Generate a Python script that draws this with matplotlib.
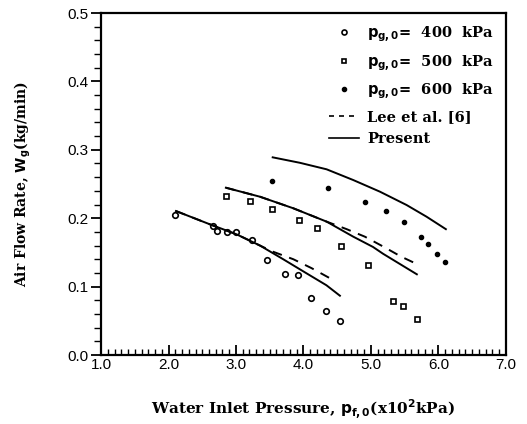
import matplotlib
matplotlib.use("Agg")
import matplotlib.pyplot as plt
from matplotlib.ticker import MultipleLocator
from matplotlib.lines import Line2D

# ---- data ----
x400 = [2.10, 2.66, 2.72, 2.86, 3.00, 3.24, 3.46, 3.72, 3.92, 4.11, 4.33, 4.545]
y400 = [0.204, 0.189, 0.182, 0.180, 0.180, 0.168, 0.139, 0.118, 0.117, 0.084, 0.064, 0.049]

x500 = [2.85, 3.21, 3.53, 3.93, 4.195, 4.55, 4.96, 5.32, 5.47, 5.68]
y500 = [0.233, 0.225, 0.213, 0.198, 0.186, 0.160, 0.132, 0.079, 0.072, 0.052]

x600 = [3.53, 4.37, 4.91, 5.22, 5.49, 5.74, 5.85, 5.98, 6.10]
y600 = [0.255, 0.244, 0.223, 0.210, 0.195, 0.173, 0.162, 0.147, 0.136]

# Present (solid) curves
xp1 = [2.11, 2.615, 3.01, 3.356, 3.70, 4.046, 4.34, 4.54]
yp1 = [0.2105, 0.191, 0.1764, 0.160, 0.140, 0.1194, 0.102, 0.0867]
xp2 = [2.85, 3.356, 3.85, 4.343, 4.738, 5.03, 5.18, 5.68]
yp2 = [0.2446, 0.2314, 0.2145, 0.195, 0.173, 0.158, 0.148, 0.118]
xp3 = [3.544, 3.948, 4.343, 4.738, 5.133, 5.528, 5.824, 6.11]
yp3 = [0.289, 0.281, 0.2715, 0.2558, 0.2388, 0.2193, 0.2022, 0.184]

# Lee et al. [6] (dashed) curves
xl1 = [2.11, 2.615, 3.01, 3.356, 3.55, 3.85, 4.12, 4.47]
yl1 = [0.2105, 0.191, 0.1764, 0.160, 0.151, 0.140, 0.127, 0.108]
xl2 = [2.85, 3.356, 3.85, 4.343, 4.64, 4.91, 5.21, 5.45, 5.68]
yl2 = [0.2446, 0.2314, 0.2145, 0.195, 0.184, 0.173, 0.157, 0.1437, 0.133]

xticks = [1.0, 2.0, 3.0, 4.0, 5.0, 6.0, 7.0]
yticks = [0.0, 0.1, 0.2, 0.3, 0.4, 0.5]

fig = plt.figure(figsize=(5.27, 4.24), dpi=100)
ax = fig.add_axes([0.1917, 0.1627, 0.960 - 0.1917, 0.9693 - 0.1627])

lw = 1.4
ax.plot(x400, y400, linestyle='none', marker='o', ms=4.0, mfc='white', mec='black', mew=1.2)
ax.plot(x500, y500, linestyle='none', marker='s', ms=3.6, mfc='white', mec='black', mew=1.2)
ax.plot(x600, y600, linestyle='none', marker='o', ms=3.0, mfc='black', mec='black')

for xs, ys in [(xp1, yp1), (xp2, yp2), (xp3, yp3)]:
    ax.plot(xs, ys, color='black', lw=lw)
for xs, ys in [(xl1, yl1), (xl2, yl2)]:
    ax.plot(xs, ys, color='black', lw=lw, dashes=(5, 4))

ax.set_xlim(1.0, 7.0)
ax.set_ylim(0.0, 0.5)
ax.set_xticks(xticks)
ax.set_yticks(yticks)
ax.set_xticklabels([f"{v:.1f}" for v in xticks], fontsize=11, family='Liberation Sans')
ax.set_yticklabels([f"{v:.1f}" for v in yticks], fontsize=11, family='Liberation Sans')
ax.xaxis.set_minor_locator(MultipleLocator(0.1))
ax.yaxis.set_minor_locator(MultipleLocator(0.02))
ax.tick_params(axis='x', which='both', direction='in', top=False)
ax.tick_params(axis='x', which='major', length=7, width=1.3, pad=2)
ax.tick_params(axis='x', which='minor', length=4.5, width=1.0)
ax.tick_params(axis='y', which='both', direction='out', right=False)
ax.tick_params(axis='y', which='major', length=7, width=1.3, pad=2)
ax.tick_params(axis='y', which='minor', length=5, width=1.0)
for s in ax.spines.values():
    s.set_linewidth(1.6)

ax.set_xlabel(r"Water Inlet Pressure, $\mathbf{p_{f,0}}$(x10$^\mathbf{2}$kPa)", labelpad=18,
              family='DejaVu Serif', fontweight='bold', fontsize=11)
ax.set_ylabel(r"Air Flow Rate, $\mathbf{W_g}$(kg/min)", labelpad=25,
              family='DejaVu Serif', fontweight='bold', fontsize=10)

handles = [
    Line2D([], [], linestyle='none', marker='o', ms=3.6, mfc='white', mec='black', mew=1.2),
    Line2D([], [], linestyle='none', marker='s', ms=3.4, mfc='white', mec='black', mew=1.2),
    Line2D([], [], linestyle='none', marker='o', ms=3.0, mfc='black', mec='black'),
    Line2D([], [], color='black', lw=1.2, dashes=(3, 3)),
    Line2D([], [], color='black', lw=1.2),
]
labels = [r"$\mathbf{p_{g,0}}$=  400  kPa", r"$\mathbf{p_{g,0}}$=  500  kPa",
          r"$\mathbf{p_{g,0}}$=  600  kPa", "Lee et al. [6]", "Present"]
leg = ax.legend(handles, labels, loc='upper right', frameon=False,
                prop=dict(family='DejaVu Serif', weight='bold', size=10.5),
                handlelength=2.0, handletextpad=0.6, labelspacing=0.6,
                borderaxespad=0.4, borderpad=0.4)

fig.savefig("out.png", dpi=100)
